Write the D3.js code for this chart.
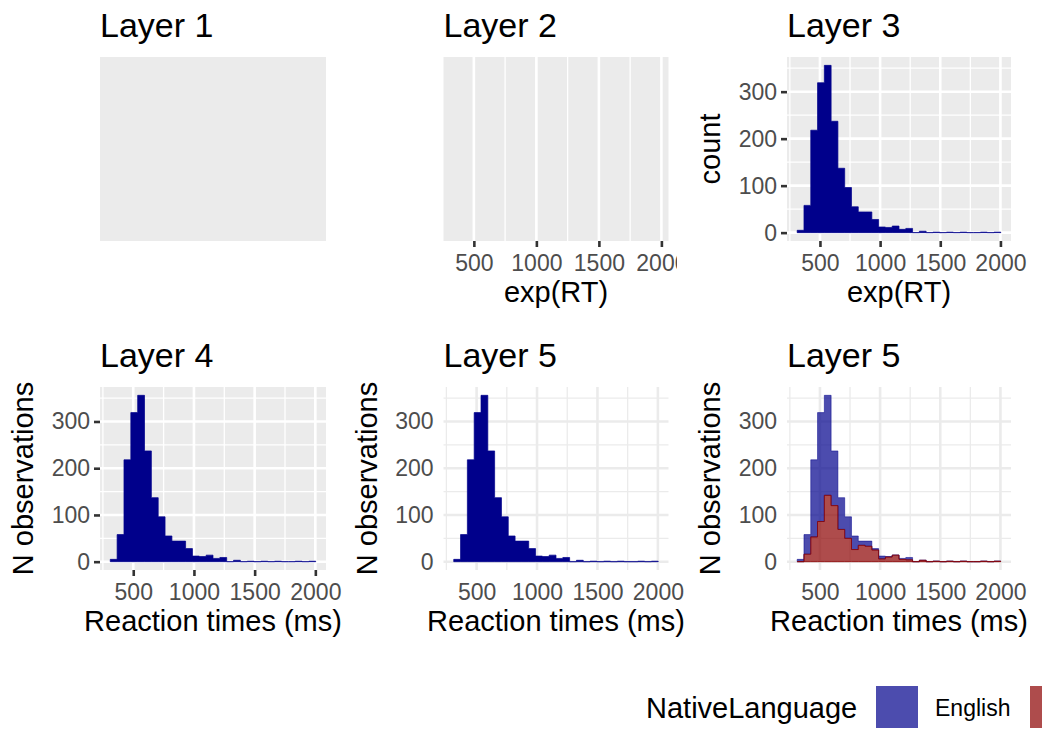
<!DOCTYPE html>
<html>
<head>
<meta charset="utf-8">
<script src="https://cdn.jsdelivr.net/npm/d3@7"></script>
<style>
  body { margin: 0; background: #fff; }
  svg text { font-family: "Liberation Sans", Arial, sans-serif; }
</style>
</head>
<body>
<svg id="chart" width="1042" height="730"></svg>
<script>
'use strict';

// exp(RT) min / max, histogram uses 30 bins (ggplot default)
var rtRange = [339, 1975];
// counts per bin, all observations (blue top in last panel)
var totalCounts = [5, 58, 218, 319, 356, 237, 137, 96, 55, 44, 44, 28, 12, 11, 14, 7, 9, 0, 3, 0, 1, 0, 1, 0, 1, 0, 0, 1, 0, 1];
// counts per bin, NativeLanguage = Other (red)
var otherCounts = [0, 16, 53, 86, 142, 120, 69, 50, 26, 35, 33, 25, 6, 10, 14, 5, 4, 0, 3, 0, 1, 0, 1, 0, 1, 0, 0, 1, 0, 1];
var languages = ['English', 'Other'];
var xTickValues = [500, 1000, 1500, 2000];
var yTickValues = [0, 100, 200, 300];
var panelTitles = ['Layer 1', 'Layer 2', 'Layer 3', 'Layer 4', 'Layer 5', 'Layer 5'];

var navy = '#00008b';
var langColors = ['#00008b', '#8b0000'];

var W = 1042;
var svg = d3.select('#chart');

var cols = [[100, 326], [443.5, 668.5], [787, 1011]];
var rows = [[57, 241], [387, 570]];

function expand(d, m) {
  var r = d[1] - d[0];
  return [d[0] - r * m, d[1] + r * m];
}

var binW = (rtRange[1] - rtRange[0]) / (totalCounts.length - 1);
var bins = totalCounts.map(function (c, i) {
  var start = rtRange[0] - binW / 2 + i * binW;
  return { x0: start, x1: start + binW, total: c, other: otherCounts[i] };
});
// closing point so the step curve reaches the right edge of the last bin
var last = bins[bins.length - 1];
var steps = bins.concat([{ x0: last.x1, x1: last.x1, total: last.total, other: last.other }]);

var binDomain = expand([bins[0].x0, last.x1], 0.05);
var dataDomain = expand(rtRange, 0.05);
var yDomain = expand([0, d3.max(totalCounts)], 0.05);

var panels = [
  { theme: 'gray' },
  { theme: 'gray', x: dataDomain, xTitle: 'exp(RT)', clipX: 677 },
  { theme: 'gray', x: binDomain, hist: 'single', xTitle: 'exp(RT)', yTitle: 'count' },
  { theme: 'gray', x: binDomain, hist: 'single', xTitle: 'Reaction times (ms)', yTitle: 'N observations' },
  { theme: 'minimal', x: binDomain, hist: 'single', xTitle: 'Reaction times (ms)', yTitle: 'N observations' },
  { theme: 'minimal', x: binDomain, hist: 'stack', xTitle: 'Reaction times (ms)', yTitle: 'N observations' }
];

function styleAxis(ax, minimal) {
  ax.select('.domain').remove();
  ax.selectAll('text')
    .attr('font-size', 23)
    .attr('fill', '#4d4d4d')
    .style('font-family', '"Liberation Sans", Arial, sans-serif');
  ax.selectAll('line')
    .attr('stroke', minimal ? 'none' : '#333333')
    .attr('stroke-width', 2.6);
}

panels.forEach(function (p, i) {
  var left = cols[i % 3][0], right = cols[i % 3][1];
  var top = rows[Math.floor(i / 3)][0], bottom = rows[Math.floor(i / 3)][1];
  var g = svg.append('g').attr('class', 'panel panel-' + (i + 1));
  var minimal = p.theme === 'minimal';
  var gridColor = minimal ? '#ebebeb' : '#ffffff';

  g.append('text')
    .attr('x', left)
    .attr('y', top - 20)
    .attr('font-size', 34)
    .attr('fill', '#000')
    .text(panelTitles[i]);

  if (!minimal) {
    g.append('rect')
      .attr('x', left).attr('y', top)
      .attr('width', right - left).attr('height', bottom - top)
      .attr('fill', '#ebebeb');
  }
  if (!p.x) return;

  var x = d3.scaleLinear().domain(p.x).range([left, right]);
  var y = d3.scaleLinear().domain(yDomain).range([bottom, top]);

  var minorX = d3.range(250, 2300, 500).filter(function (v) { return v > p.x[0] && v < p.x[1]; });
  g.selectAll('.vminor').data(minorX).enter().append('line')
    .attr('x1', x).attr('x2', x).attr('y1', top).attr('y2', bottom)
    .attr('stroke', gridColor).attr('stroke-width', 1.3);

  if (p.hist) {
    var minorY = d3.range(50, 400, 100).filter(function (v) { return v < yDomain[1]; });
    g.selectAll('.hminor').data(minorY).enter().append('line')
      .attr('x1', left).attr('x2', right).attr('y1', y).attr('y2', y)
      .attr('stroke', gridColor).attr('stroke-width', 1.3);
    g.selectAll('.hmajor').data(yTickValues).enter().append('line')
      .attr('x1', left).attr('x2', right).attr('y1', y).attr('y2', y)
      .attr('stroke', gridColor).attr('stroke-width', 2.6);
  }
  g.selectAll('.vmajor').data(xTickValues).enter().append('line')
    .attr('x1', x).attr('x2', x).attr('y1', top).attr('y2', bottom)
    .attr('stroke', gridColor).attr('stroke-width', 2.6);

  var area = d3.area()
    .curve(d3.curveStepAfter)
    .x(function (b) { return x(b.x0); });

  if (p.hist === 'single') {
    area.y0(y(0)).y1(function (b) { return y(b.total); });
    g.append('path').datum(steps)
      .attr('d', area)
      .attr('fill', navy)
      .attr('stroke', navy)
      .attr('stroke-width', 0.7);
  } else if (p.hist === 'stack') {
    // English sits on top of Other
    area.y0(function (b) { return y(b.other); }).y1(function (b) { return y(b.total); });
    g.append('path').datum(steps)
      .attr('d', area)
      .attr('fill', langColors[0]).attr('fill-opacity', 0.7)
      .attr('stroke', langColors[0]).attr('stroke-width', 0.5);
    area.y0(y(0)).y1(function (b) { return y(b.other); });
    g.append('path').datum(steps)
      .attr('d', area)
      .attr('fill', langColors[1]).attr('fill-opacity', 0.7)
      .attr('stroke', langColors[1]).attr('stroke-width', 0.8);
  }

  var xAxis = g.append('g')
    .attr('transform', 'translate(0,' + bottom + ')')
    .call(d3.axisBottom(x).tickValues(xTickValues).tickSize(6).tickPadding(7.7).tickFormat(d3.format('d')));
  styleAxis(xAxis, minimal);
  if (p.clipX) {
    // the cell of this panel cuts the last tick label
    svg.append('clipPath').attr('id', 'clip-' + i)
      .append('rect').attr('x', 0).attr('y', -10).attr('width', p.clipX).attr('height', 60);
    xAxis.attr('clip-path', 'url(#clip-' + i + ')');
  }

  g.append('text')
    .attr('x', (left + right) / 2)
    .attr('y', bottom + 61)
    .attr('text-anchor', 'middle')
    .attr('font-size', 29)
    .text(p.xTitle);

  if (p.yTitle) {
    var yAxis = g.append('g')
      .attr('transform', 'translate(' + left + ',0)')
      .call(d3.axisLeft(y).tickValues(yTickValues).tickSize(6).tickPadding(4));
    styleAxis(yAxis, minimal);

    g.append('text')
      .attr('transform', 'translate(' + (left - 67) + ',' + ((top + bottom) / 2) + ') rotate(-90)')
      .attr('text-anchor', 'middle')
      .attr('font-size', 29)
      .text(p.yTitle);
  }
});

// legend runs off the right edge, as in the original
var legend = svg.append('g').attr('class', 'legend');
legend.append('text')
  .attr('x', 646).attr('y', 718)
  .attr('font-size', 29)
  .text('NativeLanguage');

var item = legend.selectAll('.item').data(languages).enter().append('g')
  .attr('transform', function (d, i) { return 'translate(' + (876 + i * 154) + ',686)'; });
item.append('rect')
  .attr('width', 42).attr('height', 42)
  .attr('fill', function (d, i) { return langColors[i]; })
  .attr('fill-opacity', 0.7);
// only labels that fall inside the picture are shown
item.filter(function (d, i) { return 876 + i * 154 + 59 < W; })
  .append('text')
  .attr('x', 59).attr('y', 30)
  .attr('font-size', 23)
  .text(function (d) { return d; });
</script>
</body>
</html>
